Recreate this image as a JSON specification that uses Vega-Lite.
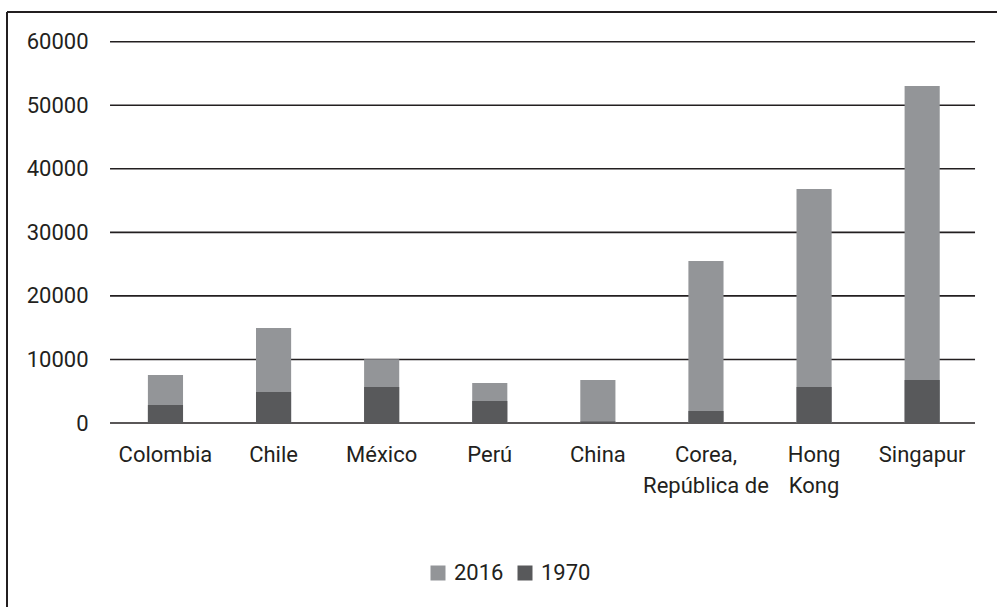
{
  "$schema": "https://vega.github.io/schema/vega-lite/v6.json",
  "width": 990,
  "height": 595,
  "autosize": "none",
  "padding": {"left": 7, "top": 12, "right": 0, "bottom": 0},
  "background": "white",
  "config": {
    "view": {"stroke": "#231f20", "strokeWidth": 2, "strokeDash": [990, 1585, 595, 0]},
    "font": "Roboto",
    "axis": {"labelFont": "Roboto", "labelFontSize": 22, "labelColor": "#231f20"},
    "legend": {"labelFont": "Roboto", "labelFontSize": 22, "labelColor": "#231f20"}
  },
  "layer": [
    {
      "data": {"values": [{"v": 0}, {"v": 10000}, {"v": 20000}, {"v": 30000}, {"v": 40000}, {"v": 50000}, {"v": 60000}]},
      "mark": {"type": "rule", "color": "#231f20", "strokeWidth": 1.6},
      "encoding": {
        "y": {
          "field": "v",
          "type": "quantitative",
          "scale": {"domain": [-28953, 64673], "nice": false, "zero": false},
          "axis": {
            "values": [0, 10000, 20000, 30000, 40000, 50000, 60000],
            "offset": -81,
            "domain": false,
            "ticks": false,
            "grid": false,
            "labelPadding": 0,
            "title": null,
            "format": "d"
          }
        },
        "x": {"datum": 0, "type": "quantitative", "scale": {"domain": [-0.1191, 1.0254], "nice": false, "zero": false}, "axis": null},
        "x2": {"datum": 1}
      }
    },
    {
      "data": {
        "values": [
          {"pais": "Colombia", "anio": "2016", "valor": 7550},
          {"pais": "Chile", "anio": "2016", "valor": 14950},
          {"pais": "México", "anio": "2016", "valor": 10020},
          {"pais": "Perú", "anio": "2016", "valor": 6290},
          {"pais": "China", "anio": "2016", "valor": 6770},
          {"pais": "Corea, República de", "anio": "2016", "valor": 25490},
          {"pais": "Hong Kong", "anio": "2016", "valor": 36820},
          {"pais": "Singapur", "anio": "2016", "valor": 53030},
          {"pais": "Colombia", "anio": "1970", "valor": 2830},
          {"pais": "Chile", "anio": "1970", "valor": 4880},
          {"pais": "México", "anio": "1970", "valor": 5660},
          {"pais": "Perú", "anio": "1970", "valor": 3460},
          {"pais": "China", "anio": "1970", "valor": 230},
          {"pais": "Corea, República de", "anio": "1970", "valor": 1890},
          {"pais": "Hong Kong", "anio": "1970", "valor": 5660},
          {"pais": "Singapur", "anio": "1970", "valor": 6770}
        ]
      },
      "mark": {"type": "bar"},
      "encoding": {
        "x": {
          "field": "pais",
          "type": "nominal",
          "sort": null,
          "scale": {"paddingInner": 0.675, "paddingOuter": 0.9166, "align": 0.711},
          "axis": {
            "orient": "bottom",
            "offset": -184,
            "domain": false,
            "ticks": false,
            "grid": false,
            "labelAngle": 0,
            "labelPadding": 21,
            "labelLimit": 0,
            "labelLineHeight": 31,
            "title": null,
            "labelExpr": "datum.label == 'Corea, República de' ? ['Corea,', 'República de'] : datum.label == 'Hong Kong' ? ['Hong', 'Kong'] : datum.label"
          }
        },
        "y": {"field": "valor", "type": "quantitative"},
        "y2": {"datum": 0},
        "color": {
          "field": "anio",
          "type": "nominal",
          "scale": {"domain": ["2016", "1970"], "range": ["#939598", "#58595b"]},
          "legend": {
            "title": null,
            "orient": "none",
            "direction": "horizontal",
            "legendX": 420,
            "legendY": 550,
            "symbolType": "square",
            "symbolSize": 225,
            "symbolStrokeWidth": 0,
            "symbolOpacity": 1,
            "labelOffset": 5,
            "columnPadding": 10,
            "padding": 0
          }
        }
      }
    }
  ],
  "resolve": {"scale": {"x": "independent"}}
}
